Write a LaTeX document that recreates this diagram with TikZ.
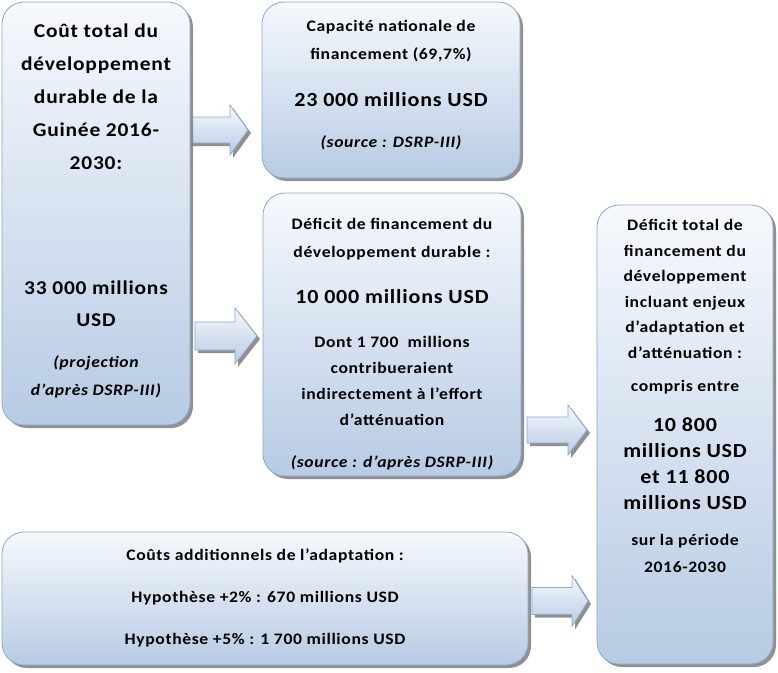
\documentclass[tikz,border=0pt]{standalone}
\usepackage{fontspec}
\setmainfont{Carlito}[FakeStretch=1.1,LetterSpace=4]
\usetikzlibrary{shadows}
\definecolor{gtop}{RGB}{246,249,253}
\definecolor{gbot}{RGB}{183,203,228}
\definecolor{edgec}{RGB}{140,168,205}
\definecolor{shadc}{RGB}{125,125,125}
\tikzset{
  box/.style={rectangle, rounded corners=22pt, top color=gtop, bottom color=gbot,
    draw=edgec, line width=0.8pt, inner sep=0pt,
    drop shadow={shadow xshift=3pt, shadow yshift=-3pt, fill=shadc, opacity=0.85}},
  txt/.style={align=center, inner sep=0pt, text=black},
  small/.style={font=\fontsize{16}{#1}\selectfont\bfseries},
  big/.style={font=\fontsize{20}{#1}\selectfont\bfseries},
  smallit/.style={font=\fontsize{16}{#1}\selectfont\bfseries\itshape},
  arrowfill/.style={top color=gtop, bottom color=gbot, draw=edgec, line width=0.7pt},
  arrowshadow/.style={fill=shadc, opacity=0.85},
}
% x1 start, xb head base, x2 tip, yc centre, s shaft half, h head half
\newcommand\blockarrow[6]{%
  \fill[arrowshadow, shift={(3pt,-3pt)}] (#1,#4-#5) -- (#2,#4-#5) -- (#2,#4-#6) -- (#3,#4) -- (#2,#4+#6) -- (#2,#4+#5) -- (#1,#4+#5) -- cycle;
  \shade[arrowfill] (#1,#4-#5) -- (#2,#4-#5) -- (#2,#4-#6) -- (#3,#4) -- (#2,#4+#6) -- (#2,#4+#5) -- (#1,#4+#5) -- cycle;}
\begin{document}
\begin{tikzpicture}[x=1pt,y=-1pt]
\useasboundingbox (0,0) rectangle (778,672);
\fill[white] (0,0) rectangle (778,672);

% arrows (drawn first so boxes cover their start)
\blockarrow{188}{230}{248}{130}{13}{25}
\blockarrow{195}{235}{257}{336}{14}{28}
\blockarrow{527}{568}{587}{430}{13}{25}
\blockarrow{532}{572}{588}{601}{13.5}{25.5}

% boxes
\node[box, minimum width=188pt, minimum height=423pt] (A) at (96,213.5) {};
\node[box, minimum width=258pt, minimum height=176pt] (B) at (391,90) {};
\node[box, minimum width=258pt, minimum height=283pt] (C) at (392,334.5) {};
\node[box, minimum width=176pt, minimum height=459pt] (D) at (685,434.5) {};
\node[box, minimum width=526pt, minimum height=133pt] (E) at (265,598.5) {};

% texts in A
\node[txt, font=\fontsize{19.5}{33}\selectfont\bfseries] (a1) at (96,97) {Coût total du\\développement\\durable de la\\Guinée 2016-\\2030:};
\node[txt, font=\fontsize{19.5}{32}\selectfont\bfseries] (a2) at (96,304) {33 000 millions\\USD};
\node[txt, smallit=28] (a3) at (96,377) {(projection\\d’après DSRP-III)};

% texts in B
\node[txt, small=28] (b1) at (391,41) {Capacité nationale de\\financement (69,7\%)};
\node[txt, big=24] (b2) at (391,100) {23 000 millions USD};
\node[txt, smallit=24] (b3) at (391,143) {(source : DSRP-III)};

% texts in C
\node[txt, small=28] (c1) at (392,239) {Déficit de financement du\\développement durable :};
\node[txt, big=24] (c2) at (392,297) {10 000 millions USD};
\node[txt, small=26] (c3) at (392,381) {Dont 1 700\ \ millions\\contribueraient\\indirectement à l’effort\\d’atténuation};
\node[txt, smallit=24] (c4) at (392,463) {(source : d’après DSRP-III)};

% texts in D
\node[txt, small=25.6] (d1) at (685,289) {Déficit total de\\financement du\\développement\\incluant enjeux\\d’adaptation et\\d’atténuation :};
\node[txt, small=24] (d2) at (685,387) {compris entre};
\node[txt, big=26] (d3) at (685,464) {10 800\\millions USD\\et 11 800\\millions USD};
\node[txt, small=27] (d4) at (685,553) {sur la période\\2016-2030};

% texts in E
\node[txt, small=42] (e1) at (265,598) {Coûts additionnels de l’adaptation :\\Hypothèse +2\% : 670 millions USD\\Hypothèse +5\% : 1 700 millions USD};
\end{tikzpicture}
\end{document}
